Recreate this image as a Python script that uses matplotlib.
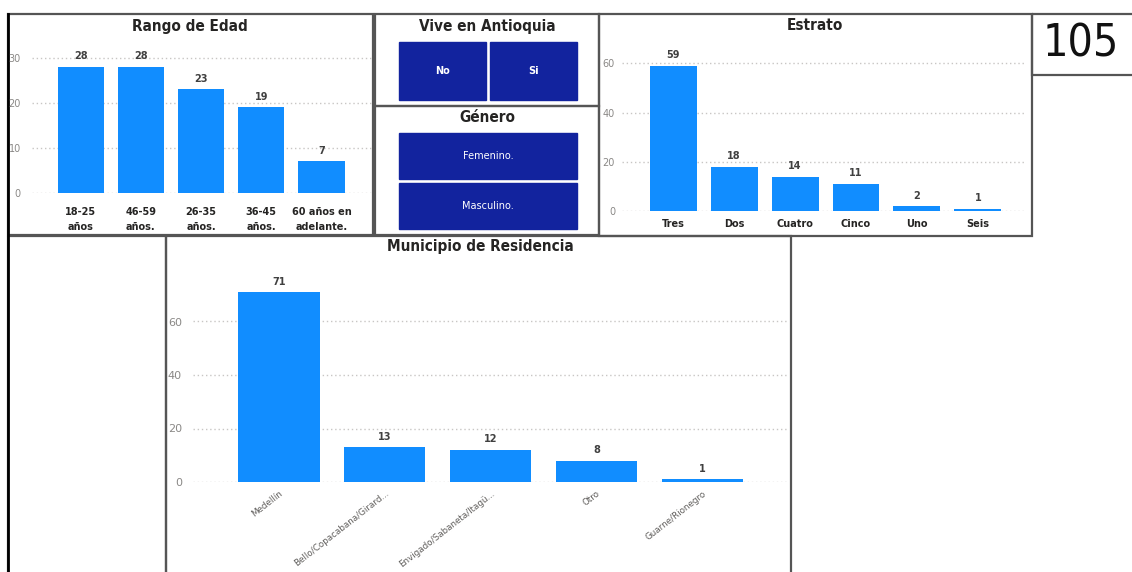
import matplotlib
matplotlib.use("Agg")
import matplotlib.pyplot as plt
from matplotlib.patches import Rectangle

W, H = 1132, 572

## data
edad_cats = ["18-25\naños", "46-59\naños.", "26-35\naños.", "36-45\naños.", "60 años en\nadelante."]
edad_vals = [28, 28, 23, 19, 7]
estrato_cats = ["Tres", "Dos", "Cuatro", "Cinco", "Uno", "Seis"]
estrato_vals = [59, 18, 14, 11, 2, 1]
muni_cats = ["Medellín", "Bello/Copacabana/Girard...", "Envigado/Sabaneta/Itagü...", "Otro", "Guarne/Rionegro"]
muni_vals = [71, 13, 12, 8, 1]
vive_opts = ["No", "Si"]
genero_opts = ["Femenino.", "Masculino."]
total = 105

BLUE = "#118DFF"
NAVY = "#12239E"
DARK = "#252423"
GRAY = "#8a8886"
FONT = "DejaVu Sans"


def box(x0, y0, x1, y1):
    # pixel box (top-left origin) -> figure fraction
    return [x0 / W, 1 - y1 / H, (x1 - x0) / W, (y1 - y0) / H]


def bar_panel(fig, rect, cats, vals, xlim, ylim, yticks, xlab_kw, ypad=8):
    ax = fig.add_axes(box(*rect))
    x = list(range(len(cats)))
    ax.bar(x, vals, width=0.77, color=BLUE, zorder=3)
    for xi, v in zip(x, vals):
        ax.annotate(str(v), (xi, v), xytext=(0, 4), textcoords="offset points",
                    ha="center", va="bottom", fontsize=7, color="#404040",
                    fontweight="bold", family=FONT)
    ax.set_xlim(*xlim)
    ax.set_ylim(*ylim)
    ax.set_yticks(yticks)
    ax.set_yticklabels([str(t) for t in yticks], fontsize=7, color=GRAY, family=FONT)
    ax.set_xticks(x)
    ax.set_xticklabels(cats, **xlab_kw)
    ax.tick_params(length=0)
    ax.tick_params(axis="y", pad=ypad)
    ax.grid(axis="y", linestyle=(0, (1, 2)), color="#c8c6c4", lw=1, zorder=0)
    for s in ax.spines.values():
        s.set_visible(False)
    ax.patch.set_alpha(0)
    return ax


fig = plt.figure(figsize=(W / 100, H / 100), dpi=100, facecolor="white")

## background layer with panel frames, slicers and card
bg = fig.add_axes([0, 0, 1, 1])
bg.set_xlim(0, W)
bg.set_ylim(H, 0)
bg.axis("off")

frames = [(8, 14, 373, 235), (375, 14, 599, 106), (375, 106, 599, 235),
          (599, 14, 1032, 236), (1032, 14, 1140, 75), (8, 236, 166, 580),
          (166, 236, 791, 580)]
for x0, y0, x1, y1 in frames:
    bg.add_patch(Rectangle((x0, y0), x1 - x0, y1 - y0, fill=False,
                           edgecolor="#555555", lw=1.6))
bg.plot([8, 8], [14, 572], color="black", lw=2)

titles = [("Rango de Edad", 190, 26), ("Vive en Antioquia", 487, 26),
          ("Género", 487, 117), ("Estrato", 815, 26),
          ("Municipio de Residencia", 480, 246)]
for t, tx, ty in titles:
    bg.text(tx, ty, t, ha="center", va="center", fontsize=11, fontweight="bold",
            color=DARK, family=FONT, fontstretch="condensed")

# Vive en Antioquia slicer
for i, opt in enumerate(vive_opts):
    x0 = 399 + i * 91
    bg.add_patch(Rectangle((x0, 42), 87, 58, color=NAVY))
    bg.text(x0 + 43.5, 71, opt, ha="center", va="center", fontsize=7,
            color="white", fontweight="bold", family=FONT)

# Genero slicer
for i, opt in enumerate(genero_opts):
    y0 = 133 + i * 50
    bg.add_patch(Rectangle((399, y0), 178, 46, color=NAVY))
    bg.text(488, y0 + 23, opt, ha="center", va="center", fontsize=7,
            color="white", family=FONT)

# card
bg.text(1081, 44, str(total), ha="center", va="center", fontsize=32,
        color="#111111", family=FONT, fontstretch="condensed")

## charts
bold_lab = dict(fontsize=7, fontweight="bold", color=DARK, family=FONT, linespacing=1.6)
ax1 = bar_panel(fig, (32, 47, 372, 193), edad_cats, edad_vals,
                (-0.81, 4.84), (0, 32.4), [0, 10, 20, 30], bold_lab)
ax1.tick_params(axis="x", pad=10)

ax2 = bar_panel(fig, (622, 51, 1026, 211), estrato_cats, estrato_vals,
                (-0.84, 5.79), (0, 65), [0, 20, 40, 60], bold_lab, ypad=5)
ax2.tick_params(axis="x", pad=6)

rot_lab = dict(fontsize=6.3, color="#605e5c", family=FONT, rotation=38,
               ha="right", va="top", rotation_mode="anchor")
ax3 = bar_panel(fig, (193, 268, 787, 482), muni_cats, muni_vals,
                (-0.81, 4.80), (0, 80), [0, 20, 40, 60], rot_lab)
ax3.tick_params(axis="x", pad=5)
for lab in ax3.get_yticklabels():
    lab.set_fontsize(8)

fig.savefig("out.png", dpi=100, facecolor="white")
